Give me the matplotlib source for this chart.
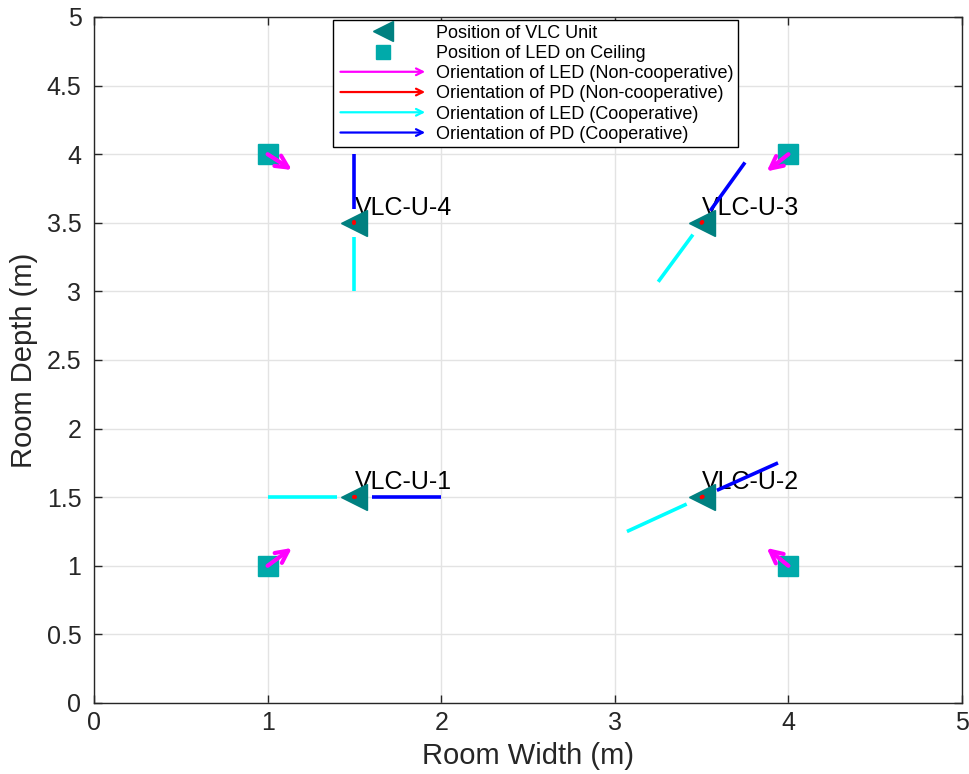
import numpy as np
import matplotlib
matplotlib.use('Agg')
import matplotlib.pyplot as plt
from matplotlib.legend_handler import HandlerBase
from matplotlib.lines import Line2D
from matplotlib.patches import FancyArrowPatch

plt.rcParams['font.family'] = ['Liberation Sans', 'DejaVu Sans']

# VLC units and ceiling LEDs (room coordinates, m)
unit_x = [1.5, 3.5, 3.5, 1.5]
unit_y = [1.5, 1.5, 3.5, 3.5]
unit_names = ['VLC-U-1', 'VLC-U-2', 'VLC-U-3', 'VLC-U-4']
led_x = [1.0, 4.0, 4.0, 1.0]
led_y = [1.0, 1.0, 4.0, 4.0]

# LED orientation, non-cooperative (from each ceiling LED)
led_nc_dx = [0.14, -0.125, -0.125, 0.14]
led_nc_dy = [0.13, 0.13, -0.125, -0.115]
# PD orientation, non-cooperative (almost vertical, shows as a dot)
pd_nc_dx = [0.006, 0.006, 0.004, 0.0]
pd_nc_dy = [0.0, 0.004, 0.006, 0.006]
# cooperative orientations (from each unit)
led_c_dx = [-0.5, -0.43, -0.25, 0.0]
led_c_dy = [0.0, -0.25, -0.43, -0.5]
pd_c_dx = [0.5, 0.44, 0.25, 0.0]
pd_c_dy = [0.0, 0.25, 0.44, 0.5]

teal = '#008080'
sq_col = '#00aaaa'
txt_col = '#262626'

fig = plt.figure(figsize=(9.7, 7.74), dpi=100)
ax = fig.add_axes([94/970, 1-703/774, 868/970, 686/774])


class ArrowHandler(HandlerBase):
    def create_artists(self, legend, orig_handle, xdescent, ydescent,
                       width, height, fontsize, trans):
        y = height/2 - ydescent
        arr = FancyArrowPatch((-xdescent, y), (width - xdescent, y),
                              arrowstyle='->', mutation_scale=12,
                              color=orig_handle.get_color(), lw=1.6,
                              transform=trans)
        return [arr]


def seg(x0, y0, dx, dy, f0=0.2):
    return [x0 + f0*dx, x0 + dx], [y0 + f0*dy, y0 + dy]


for i in range(4):
    xs, ys = seg(unit_x[i], unit_y[i], led_c_dx[i], led_c_dy[i])
    ax.plot(xs, ys, color='cyan', lw=2.6, zorder=4, solid_capstyle='butt')
    xs, ys = seg(unit_x[i], unit_y[i], pd_c_dx[i], pd_c_dy[i])
    ax.plot(xs, ys, color='blue', lw=2.6, zorder=4, solid_capstyle='butt')
    ax.text(unit_x[i], unit_y[i] + 0.11, unit_names[i], fontsize=18,
            ha='left', va='center', color='black', zorder=3)

ax.plot(unit_x, unit_y, '<', color=teal, markersize=19, zorder=5, lw=0)
ax.plot(led_x, led_y, 's', color=sq_col, markersize=14, zorder=5, lw=0)

for i in range(4):
    ax.annotate('', xy=(led_x[i] + led_nc_dx[i], led_y[i] + led_nc_dy[i]),
                xytext=(led_x[i], led_y[i]),
                arrowprops=dict(arrowstyle='->', color='magenta', lw=3,
                                mutation_scale=22, shrinkA=0, shrinkB=0),
                zorder=6)
    ax.plot([unit_x[i], unit_x[i] + pd_nc_dx[i]],
            [unit_y[i], unit_y[i] + pd_nc_dy[i]],
            color='red', lw=3, solid_capstyle='round', zorder=7)

ax.set_xlim(0, 5)
ax.set_ylim(0, 5)
ax.set_xticks(np.arange(0, 5.1, 1))
ax.set_yticks(np.arange(0, 5.1, 0.5))
ax.set_xticklabels(['0', '1', '2', '3', '4', '5'])
ax.set_yticklabels(['0', '0.5', '1', '1.5', '2', '2.5', '3', '3.5', '4', '4.5', '5'])
ax.grid(True, color='#e3e3e3', lw=1)
ax.set_axisbelow(True)
ax.tick_params(direction='in', top=True, right=True, length=6, width=1,
               labelsize=18, colors=txt_col, pad=6)
ax.tick_params(axis='y', pad=9)
for sp in ax.spines.values():
    sp.set_color(txt_col)
    sp.set_linewidth(1)
ax.set_xlabel('Room Width (m)', fontsize=21, color=txt_col, labelpad=5)
ax.set_ylabel('Room Depth (m)', fontsize=21, color=txt_col, labelpad=6)

handles = [
    Line2D([], [], marker='<', color=teal, markersize=15, lw=0),
    Line2D([], [], marker='s', color=sq_col, markersize=10, lw=0),
    Line2D([], [], color='magenta'),
    Line2D([], [], color='red'),
    Line2D([], [], color='cyan'),
    Line2D([], [], color='blue'),
]
labels = ['Position of VLC Unit', 'Position of LED on Ceiling',
          'Orientation of LED (Non-cooperative)', 'Orientation of PD (Non-cooperative)',
          'Orientation of LED (Cooperative)', 'Orientation of PD (Cooperative)']
leg = ax.legend(handles, labels, loc='upper left', bbox_to_anchor=(0.2755, 0.9955),
                fontsize=13, labelspacing=0.18, handlelength=5.0,
                handletextpad=0.45, borderpad=0.25, borderaxespad=0,
                fancybox=False, framealpha=1, edgecolor='black',
                handler_map={h: ArrowHandler() for h in handles[2:]})
leg.get_frame().set_linewidth(1)
leg.set_zorder(10)

fig.savefig('out.png', dpi=100)
